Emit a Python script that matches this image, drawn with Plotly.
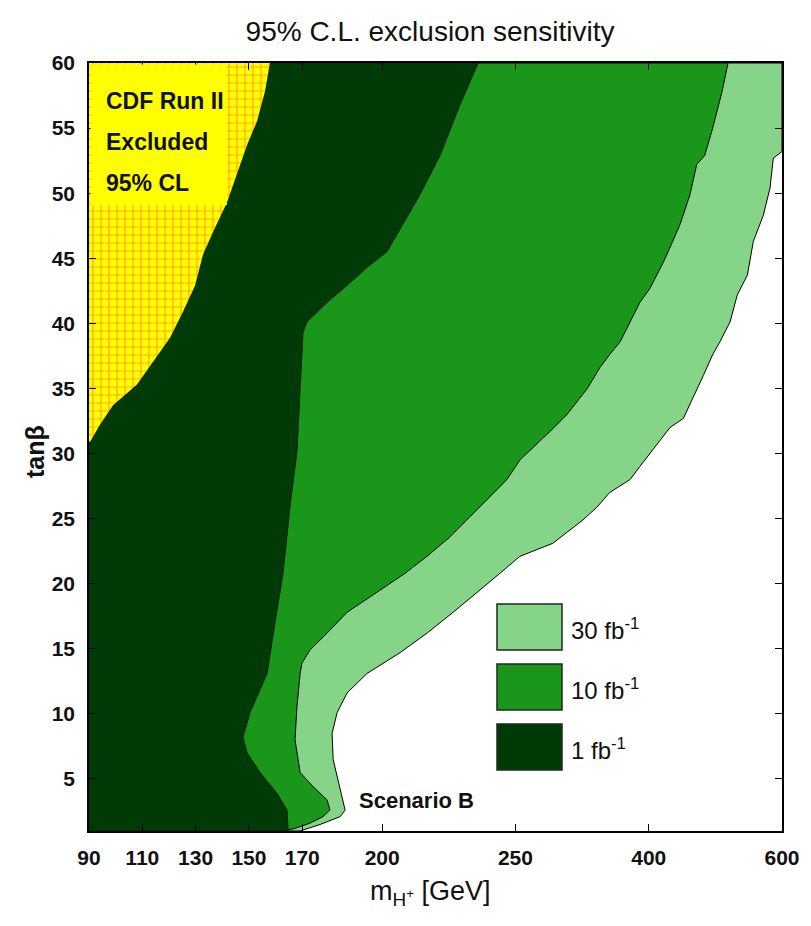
import plotly.graph_objects as go

# ---------------- data (mass in GeV, tan beta) ----------------
cdf_mass = [157.9, 156.0, 153.0, 149.3, 145.5, 141.8, 136.5, 132.8, 129.8, 125.3,
            120.4, 114.0, 108.0, 99.0, 94.1, 90.4]
cdf_tanb = [60.0, 57.8, 55.5, 53.7, 51.4, 49.3, 47.0, 45.3, 42.9, 40.9,
            38.9, 37.0, 35.3, 33.7, 32.2, 30.9]

lum1_mass = [236.0, 229.2, 221.7, 214.2, 206.7, 201.8, 194.3, 186.8, 179.3, 171.8,
             170.3, 169.2, 168.0, 165.4, 162.8, 159.8, 156.8, 150.4, 147.8, 149.3,
             154.2, 160.5, 164.3, 164.7]
lum1_tanb = [60.0, 56.8, 52.9, 49.9, 47.3, 45.5, 44.3, 42.9, 41.6, 40.1,
             39.3, 35.0, 30.1, 25.9, 20.8, 17.0, 13.1, 10.1, 8.2, 7.0,
             5.5, 3.9, 2.6, 1.0]

lum10_mass = [519, 510, 496, 484, 472, 462, 447, 436, 422, 402,
              390, 379, 368, 356, 345, 331, 308, 289, 278, 255,
              246.8, 240.5, 234.1, 225.5, 216.8, 208.6, 199.2, 186.8, 179.3, 172.9,
              169.9, 169.2, 168.0, 167.3, 169.2, 174.1, 179.3, 180.4, 177.8, 172.9,
              167.3, 162.8]
lum10_tanb = [60.0, 57.8, 55.0, 52.9, 52.2, 49.9, 47.6, 46.3, 44.7, 42.7,
              41.6, 40.1, 38.6, 37.6, 36.6, 35.0, 33.0, 31.7, 31.0, 29.5,
              28.0, 26.7, 25.4, 23.6, 22.1, 20.8, 19.5, 17.8, 16.2, 14.9,
              13.9, 13.1, 10.5, 8.0, 5.5, 4.4, 3.4, 2.6, 2.1, 1.6,
              1.2, 1.0]

lum30_mass = [600, 587, 582, 572, 557, 548, 533, 522, 507, 496,
              482, 466, 452, 432, 412, 390, 379, 356, 342, 326,
              292, 255, 244.2, 236.7, 226.6, 216.8, 206.7, 194.3, 186.8, 183.1,
              181.2, 181.6, 183.4, 185.3, 186.1, 184.2, 176.7, 169.2]
lum30_tanb = [53.2, 52.7, 50.4, 48.3, 46.3, 43.7, 42.2, 40.1, 38.6, 37.6,
              36.0, 34.3, 32.7, 32.0, 30.7, 29.0, 28.0, 27.0, 25.9, 24.9,
              23.1, 22.1, 20.8, 19.5, 17.8, 16.2, 14.7, 13.1, 11.6, 10.1,
              8.5, 6.5, 4.9, 3.4, 2.6, 2.1, 1.5, 1.0]

x_ticks = [90, 110, 130, 150, 170, 200, 250, 400, 600]
x_tick_labels = ["90", "110", "130", "150", "170", "200", "250", "400", "600"]
y_ticks = [5, 10, 15, 20, 25, 30, 35, 40, 45, 50, 55, 60]
legend_labels = ["30 fb<sup>-1</sup>", "10 fb<sup>-1</sup>", "1 fb<sup>-1</sup>"]

X_MIN, X_MAX = 90, 600
Y_MIN, Y_MAX = 1, 60

C_LIGHT = "#86d487"
C_MED = "#1a961a"
C_DARK = "#003a06"

FONT = "Liberation Sans, Arial, sans-serif"


# piecewise axis scale of the original figure
def ax(m):
    if m <= 250:
        return m
    if m <= 400:
        return 250 + (m - 250) / 3.0
    return 300 + (m - 400) / 4.0


def axl(ms):
    return [ax(m) for m in ms]


def region(mass, tanb, top_right=None):
    right = mass[0] if top_right is None else top_right
    xs = [ax(X_MIN), ax(right)] + axl(mass) + [ax(X_MIN), ax(X_MIN)]
    ys = [Y_MAX, Y_MAX] + list(tanb) + [Y_MIN, Y_MAX]
    return xs, ys


fig = go.Figure()

# 30 fb^-1
xs, ys = region(lum30_mass, lum30_tanb, top_right=X_MAX)
fig.add_trace(go.Scatter(x=xs, y=ys, fill="toself", fillcolor=C_LIGHT, mode="lines",
                         line=dict(color="black", width=1), hoverinfo="skip", showlegend=False))
# 10 fb^-1
xs, ys = region(lum10_mass, lum10_tanb)
fig.add_trace(go.Scatter(x=xs, y=ys, fill="toself", fillcolor=C_MED, mode="lines",
                         line=dict(color="black", width=1), hoverinfo="skip", showlegend=False))
# 1 fb^-1
xs, ys = region(lum1_mass, lum1_tanb)
fig.add_trace(go.Scatter(x=xs, y=ys, fill="toself", fillcolor=C_DARK, mode="lines",
                         line=dict(color="#0a1f0a", width=1), hoverinfo="skip", showlegend=False))
# CDF excluded
xs = [ax(X_MIN), ax(cdf_mass[0])] + axl(cdf_mass) + [ax(X_MIN), ax(X_MIN)]
ys = [Y_MAX, Y_MAX] + cdf_tanb + [cdf_tanb[-1], Y_MAX]
fig.add_trace(go.Scatter(x=xs, y=ys, fill="toself", fillcolor="#ffff00", mode="lines",
                         line=dict(color="rgba(0,0,0,0)", width=0),
                         fillpattern=dict(shape="+", fgcolor="#ff5530", bgcolor="#ffff00",
                                          size=8, solidity=0.28),
                         hoverinfo="skip", showlegend=False))

# plot area in pixels
L, R, T, B = 89, 782, 63, 831
W, H = 811, 926


def xp(px):
    return (px - L) / (R - L)


def yp(py):
    return (B - py) / (B - T)


shapes = []
# solid yellow background behind CDF text
shapes.append(dict(type="rect", xref="paper", yref="paper", x0=xp(90.5), x1=xp(227),
                   y0=yp(205), y1=yp(64.5), fillcolor="#ffff00", line=dict(width=0),
                   layer="above"))

# legend boxes
box_cols = [C_LIGHT, C_MED, C_DARK]
box_tops = [604, 664, 724]
annotations = []
for col, top, lab in zip(box_cols, box_tops, legend_labels):
    shapes.append(dict(type="rect", xref="paper", yref="paper", x0=xp(497), x1=xp(562),
                       y0=yp(top + 46), y1=yp(top), fillcolor=col,
                       line=dict(color="#1e2a1e", width=1.5), layer="above"))
    annotations.append(dict(x=xp(569), y=yp(top + 25), xref="paper", yref="paper",
                            text=lab, showarrow=False, xanchor="left", yanchor="middle",
                            font=dict(family=FONT, size=24, color="#111")))

for i, line in enumerate(["CDF Run II", "Excluded", "95% CL"]):
    annotations.append(dict(x=xp(104), y=yp(101 + 41 * i), xref="paper", yref="paper",
                            text="<b>" + line + "</b>", showarrow=False, xanchor="left",
                            yanchor="middle", font=dict(family=FONT, size=23, color="#111")))

annotations.append(dict(x=xp(357), y=yp(800), xref="paper", yref="paper",
                        text="<b>Scenario B</b>", showarrow=False, xanchor="left",
                        yanchor="middle", font=dict(family=FONT, size=22, color="#111")))

# axis titles
annotations.append(dict(x=xp(430), y=yp(893), xref="paper", yref="paper",
                        text="m<sub>H<sup>+</sup></sub> [GeV]", showarrow=False,
                        xanchor="center", yanchor="middle",
                        font=dict(family=FONT, size=27, color="#111")))
annotations.append(dict(x=xp(35), y=yp(452), xref="paper", yref="paper",
                        text="<b>tanβ</b>", showarrow=False, textangle=-90,
                        xanchor="center", yanchor="middle",
                        font=dict(family=FONT, size=25, color="#111")))

fig.update_layout(
    width=W, height=H,
    margin=dict(l=L, r=W - R, t=T, b=H - B, autoexpand=False),
    paper_bgcolor="white", plot_bgcolor="white",
    title=dict(text="95% C.L. exclusion sensitivity", x=430 / W,
               xanchor="center", y=1 - 31 / H, yanchor="middle", yref="container",
               font=dict(family=FONT, size=28, color="#111")),
    shapes=shapes, annotations=annotations,
    xaxis=dict(range=[ax(X_MIN), ax(X_MAX)], tickvals=axl(x_ticks), ticktext=x_tick_labels,
               ticks="inside", ticklen=7, tickwidth=1.2, tickcolor="black",
               showline=True, linecolor="black", linewidth=1.5, mirror="ticks",
               showgrid=False, zeroline=False, ticklabelstandoff=7, automargin=False,
               tickfont=dict(family=FONT, size=21, color="#111", weight="bold")),
    yaxis=dict(range=[Y_MIN, Y_MAX], tickvals=y_ticks,
               ticks="inside", ticklen=7, tickwidth=1.2, tickcolor="black",
               showline=True, linecolor="black", linewidth=1.5, mirror="ticks",
               showgrid=False, zeroline=False, ticklabelstandoff=8, automargin=False,
               tickfont=dict(family=FONT, size=21, color="#111", weight="bold")),
    font=dict(family=FONT),
)

fig.write_html("out.html", config={"displayModeBar": False},
               post_script="document.body.style.margin='0';")
